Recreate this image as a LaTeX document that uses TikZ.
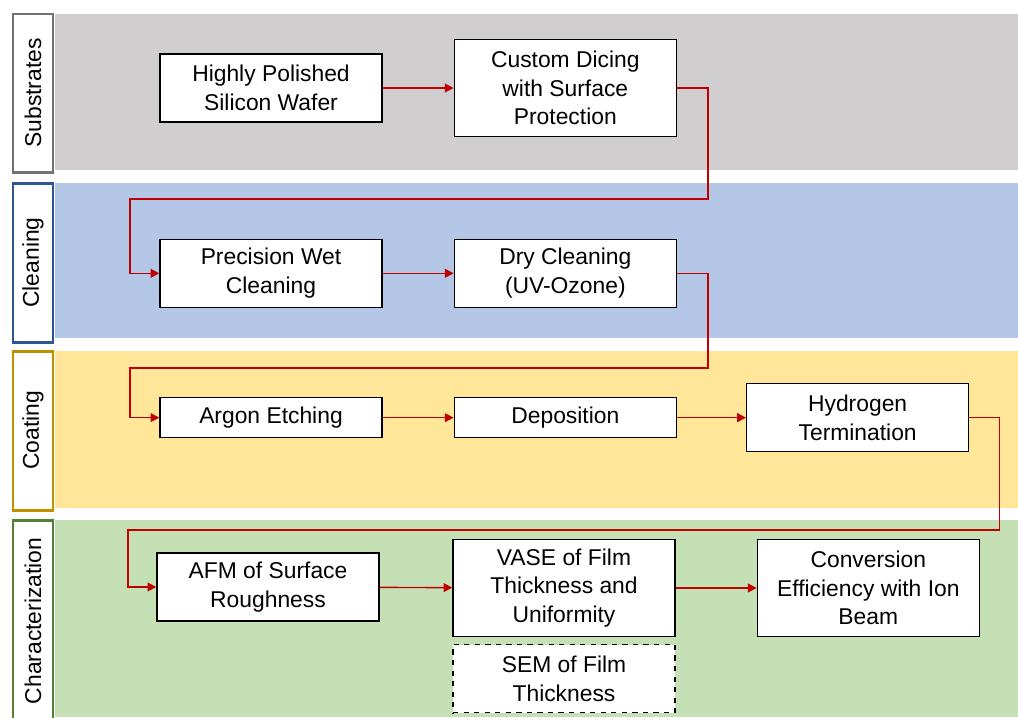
\documentclass[tikz,border=0pt]{standalone}
\usepackage{fontspec}
\setmainfont{Liberation Sans}
\usepackage{xcolor}
\usetikzlibrary{positioning,arrows.meta}
\definecolor{subgray}{HTML}{D0CECE}
\definecolor{subedge}{HTML}{767171}
\definecolor{cleanblue}{HTML}{B4C7E7}
\definecolor{cleanedge}{HTML}{2F5597}
\definecolor{coatyellow}{HTML}{FFE699}
\definecolor{coatedge}{HTML}{BF9000}
\definecolor{chargreen}{HTML}{C5E0B4}
\definecolor{charedge}{HTML}{538135}
\definecolor{flowred}{HTML}{C00000}
\newcommand{\boxfont}{\fontsize{13}{16.4}\selectfont}

\begin{document}
\begin{tikzpicture}[node distance=1.42cm,
	stepbox/.style={rectangle, draw, fill=white, line width=0.75pt, minimum width=4.44cm, minimum height=1.36cm, align=center, inner sep=2pt, font=\boxfont},
	stagebox/.style={rectangle, draw, fill=white, line width=1.7pt, minimum height=0.8cm, rotate=90, font=\boxfont},
	flow/.style={draw=flowred, line width=0.8pt, -{Triangle[length=5pt,width=5pt]}}]
				\useasboundingbox (0,0) rectangle (20.36,-14.34);
				% stage bands
				\fill[subgray] (1.1,-0.28) rectangle (20.36,-3.4);
				\fill[cleanblue] (1.1,-3.66) rectangle (20.36,-6.76);
				\fill[coatyellow] (1.1,-7.02) rectangle (20.36,-10.16);
				\fill[chargreen] (1.1,-10.4) rectangle (20.36,-14.34);
				
				\node[stagebox, draw=subedge, minimum width=3.16cm] (substrates) at (0.66,-1.86) {Substrates};
				\node[stagebox, draw=cleanedge, minimum width=3.18cm] (cleaning) at (0.66,-5.25) {Cleaning};
				\node[stagebox, draw=coatedge, minimum width=3.18cm] (coating) at (0.66,-8.61) {Coating};
				\node[stagebox, draw=charedge, minimum width=4.04cm] (charact) at (0.66,-12.42) {Characterization};
				
				% process steps
				\node[stepbox] (wafer) at (5.42,-1.76) {Highly Polished\\Silicon Wafer};
				\node[stepbox, minimum height=1.94cm, right=of wafer] (dicing) {Custom Dicing\\with Surface\\Protection};
				\node[stepbox, below=2.32cm of wafer] (wet) {Precision Wet\\Cleaning};
				\node[stepbox, right=of wet] (dry) {Dry Cleaning\\(UV-Ozone)};
				\node[stepbox, minimum height=0.8cm, below=1.78cm of wet] (argon) {Argon Etching};
				\node[stepbox, minimum height=0.8cm, right=of argon] (depo) {Deposition};
				\node[stepbox, right=1.38cm of depo] (hydro) {Hydrogen\\Termination};
				\node[stepbox] (afm) at (5.36,-11.74) {AFM of Surface\\Roughness};
				\node[stepbox, minimum height=1.94cm] (vase) at (11.28,-11.76) {VASE of Film\\Thickness and\\Uniformity};
				\node[stepbox, minimum height=1.94cm, right=1.62cm of vase] (conv) {Conversion\\Efficiency with Ion\\Beam};
				\node[stepbox, dashed, below=0.14cm of vase] (sem) {SEM of Film\\Thickness};
				
				\coordinate (bend1) at (2.6,-3.98);
				\coordinate (bend2) at (2.6,-7.36);
				\coordinate (bend3) at (2.56,-10.6);
				
				\draw[flow] (wafer) -- (dicing);
				\draw[flow] (dicing.east) -- ++(0.62,0) |- (bend1) |- (wet.west);
				\draw[flow] (wet) -- (dry);
				\draw[flow] (dry.east) -- ++(0.62,0) |- (bend2) |- (argon.west);
				\draw[flow] (argon) -- (depo);
				\draw[flow] (depo) -- (hydro);
				\draw[flow] (hydro.east) -- ++(0.6,0) |- (bend3) |- (afm.west);
				\draw[flow] (afm) -- (vase);
				\draw[flow] (vase) -- (conv);
			\end{tikzpicture}
\end{document}
